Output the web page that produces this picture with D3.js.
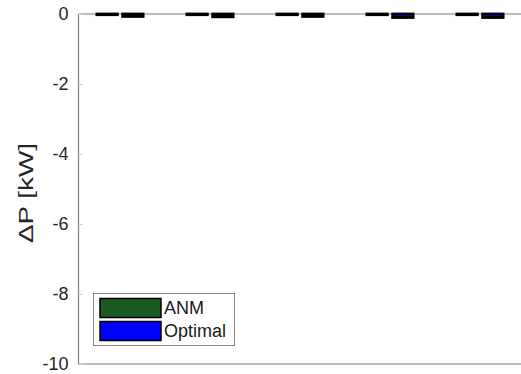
<!DOCTYPE html>
<html><head><meta charset="utf-8">
<script src="https://cdn.jsdelivr.net/npm/d3@7"></script>
<style>body{margin:0;background:#fff}svg{display:block}text{font-family:"Liberation Sans",Arial,sans-serif}</style>
</head><body>
<svg id="c" width="521" height="374"></svg>
<script>
const groups = [1, 2, 3, 4, 5];
const seriesNames = ["ANM", "Optimal"];
const anm = [-0.02, -0.02, -0.02, -0.02, -0.02];
const optimal = [-0.07, -0.08, -0.07, -0.1, -0.1];
const yTicks = [0, -2, -4, -6, -8, -10];
const colors = ["#1b5b1f", "#0000ff"];

const svg = d3.select("#c");
const pL = 78.5, pR = 530, pT = 14, pB = 364;
const x = d3.scaleLinear().domain([1, 5]).range([120, 480]);
const y = d3.scaleLinear().domain([-10, 0]).range([pB, pT]);
const barW = 0.228, offs = [-0.143, 0.143];

// axes box
svg.append("line").attr("x1", pL).attr("x2", pR).attr("y1", pB).attr("y2", pB).attr("stroke", "#7f7f7f").attr("stroke-width", 1.2);
svg.append("line").attr("x1", pL).attr("x2", pR).attr("y1", pT).attr("y2", pT).attr("stroke", "#7f7f7f").attr("stroke-width", 1.2);
svg.append("line").attr("x1", pL).attr("x2", pL).attr("y1", pT).attr("y2", pB).attr("stroke", "#7f7f7f").attr("stroke-width", 1.2);

const yAxis = d3.axisLeft(y).tickValues(yTicks).tickSize(-4).tickPadding(10).tickFormat(d => String(d));
const ga = svg.append("g").attr("transform", `translate(${pL},0)`).call(yAxis);
ga.select(".domain").remove();
ga.selectAll(".tick line").attr("stroke", "#cfcfcf");
ga.selectAll(".tick text").attr("fill", "#262626").attr("dy", "0.28em").style("font-size", "18px").style("font-family", "'Liberation Sans',Arial,sans-serif");

svg.append("text").attr("transform", `translate(33,193) rotate(-90)`)
  .attr("text-anchor", "middle").attr("fill", "#262626")
  .attr("textLength", 100).attr("lengthAdjust", "spacingAndGlyphs")
  .style("font-size", "21px").text("\u0394P [kW]");

// bars
[anm, optimal].forEach((vals, si) => {
  svg.append("g").selectAll("rect").data(vals).join("rect")
    .attr("x", (d, i) => x(groups[i] + offs[si] - barW / 2))
    .attr("width", x(1 + barW) - x(1))
    .attr("y", d => y(Math.max(0, d)))
    .attr("height", d => Math.abs(y(d) - y(0)))
    .attr("fill", colors[si]).attr("stroke", "#000").attr("stroke-width", 2.8);
});

// legend
const lg = svg.append("g");
lg.append("rect").attr("x", 93.5).attr("y", 293.5).attr("width", 141).attr("height", 52)
  .attr("fill", "#fff").attr("stroke", "#8a8a8a").attr("stroke-width", 1);
seriesNames.forEach((n, i) => {
  const yy = 298 + i * 23;
  lg.append("rect").attr("x", 100).attr("y", yy + 0.5).attr("width", 61).attr("height", 19)
    .attr("fill", colors[i]).attr("stroke", "#000").attr("stroke-width", 1.5);
  lg.append("text").attr("x", 164).attr("y", yy + 16).attr("fill", "#1a1a1a")
    .style("font-size", "18px").text(n);
});
</script>
</body></html>
